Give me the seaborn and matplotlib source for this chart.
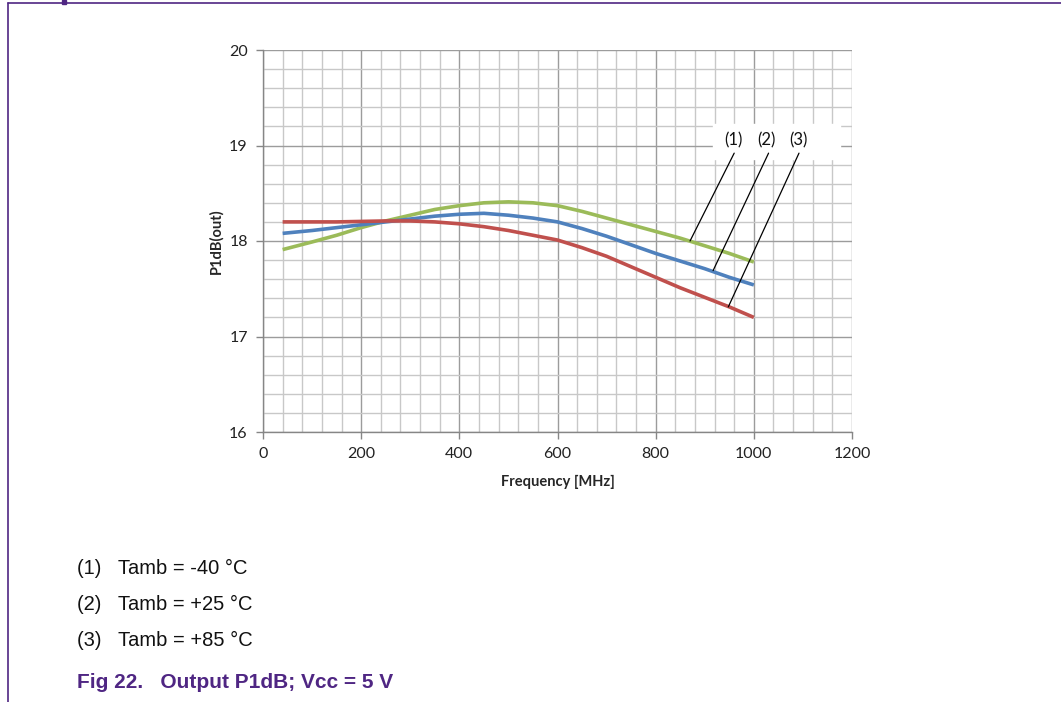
import numpy as np
import pandas as pd
import matplotlib
matplotlib.use("Agg")
import matplotlib.pyplot as plt
import seaborn as sns
from matplotlib.ticker import MultipleLocator

freq = [40, 100, 150, 200, 250, 300, 350, 400, 450, 500,
        550, 600, 650, 700, 750, 800, 850, 900, 950, 1000]
p_m40 = [17.91, 17.99, 18.06, 18.14, 18.21, 18.27, 18.33, 18.37, 18.40, 18.41,
         18.40, 18.37, 18.31, 18.24, 18.17, 18.10, 18.03, 17.95, 17.87, 17.78]
p_p25 = [18.08, 18.11, 18.14, 18.17, 18.20, 18.23, 18.26, 18.28, 18.29, 18.27,
         18.24, 18.20, 18.13, 18.05, 17.96, 17.87, 17.79, 17.71, 17.62, 17.54]
p_p85 = [18.20, 18.20, 18.20, 18.205, 18.21, 18.21, 18.20, 18.18, 18.15, 18.11,
         18.06, 18.01, 17.93, 17.84, 17.73, 17.62, 17.51, 17.41, 17.31, 17.20]

series = ["-40", "+25", "+85"]
colors = ["#9BBB59", "#4F81BD", "#C0504D"]
callouts = ["(1)", "(2)", "(3)"]
legend_lines = ["(1)   Tamb = -40 °C", "(2)   Tamb = +25 °C", "(3)   Tamb = +85 °C"]
caption = "Fig 22.   Output P1dB; Vcc = 5 V"
purple = "#4F2683"

df = pd.DataFrame({
    "Frequency": freq * 3,
    "P1dB": p_m40 + p_p25 + p_p85,
    "Tamb": [s for s in series for _ in freq],
})

sns.set_theme(style="white")
plt.rcParams["font.family"] = ["Lato", "DejaVu Sans"]

fig = plt.figure(figsize=(10.61, 7.02), dpi=100)
ax = fig.add_axes([263 / 1061, 1 - 432 / 702, (852 - 263) / 1061, (432 - 50) / 702])

sns.lineplot(data=df, x="Frequency", y="P1dB", hue="Tamb", palette=colors,
             linewidth=2.6, legend=False, ax=ax, zorder=3,
             solid_joinstyle="round", solid_capstyle="butt")

ax.set_xlim(0, 1200)
ax.set_ylim(16, 20)
ax.xaxis.set_major_locator(MultipleLocator(200))
ax.xaxis.set_minor_locator(MultipleLocator(40))
ax.yaxis.set_major_locator(MultipleLocator(1))
ax.yaxis.set_minor_locator(MultipleLocator(0.2))
ax.grid(which="minor", color="#C8C8C8", linewidth=1.0, zorder=0)
ax.grid(which="major", color="#9C9C9C", linewidth=1.0, zorder=1)
ax.set_axisbelow(True)
for side in ["top", "right"]:
    ax.spines[side].set_visible(False)
for side in ["left", "bottom"]:
    ax.spines[side].set_color("#868686")
    ax.spines[side].set_linewidth(1.0)
ax.tick_params(which="major", direction="out", length=5, width=1, color="#868686",
               labelsize=11.5, labelcolor="#222222", pad=6, left=True, bottom=True)
ax.tick_params(which="minor", length=0)
ax.set_xlabel("Frequency [MHz]", fontsize=10.5, fontweight="bold", labelpad=10)
ax.set_ylabel("P1dB(out)", fontsize=10.5, fontweight="bold", labelpad=4)

# callout labels with white background box
ax.fill_between([916, 1176], 18.86, 19.23, color="white", zorder=2)
label_x = [958, 1026, 1090]
start_pts = [(960, 18.92), (1030, 18.92), (1092, 18.92)]
end_pts = [(870, 18.0), (917, 17.69), (948, 17.31)]
for lab, lx, (x0, y0), (x1, y1) in zip(callouts, label_x, start_pts, end_pts):
    ax.text(lx, 19.05, lab, ha="center", va="center", fontsize=12, color="#111111", zorder=4)
    ax.plot([x0, x1], [y0, y1], color="black", linewidth=0.9, zorder=4)

# page frame
fig.add_artist(plt.Line2D([8 / 1061, 1], [1 - 3 / 702, 1 - 3 / 702], color=purple, linewidth=1.2))
fig.add_artist(plt.Line2D([8 / 1061, 8 / 1061], [0, 1 - 3 / 702], color=purple, linewidth=1.2))
fig.add_artist(plt.Rectangle((62 / 1061, 1 - 4 / 702), 4 / 1061, 4 / 702, color=purple))

for i, line in enumerate(legend_lines):
    fig.text(77 / 1061, 1 - (568 + 36 * i) / 702, line, fontsize=14.5,
             family="Liberation Sans", color="#111111", va="center")
fig.text(77 / 1061, 1 - 683 / 702, caption, fontsize=15, fontweight="bold",
         family="Liberation Sans", color=purple, va="center")

fig.savefig("out.png", dpi=100)
